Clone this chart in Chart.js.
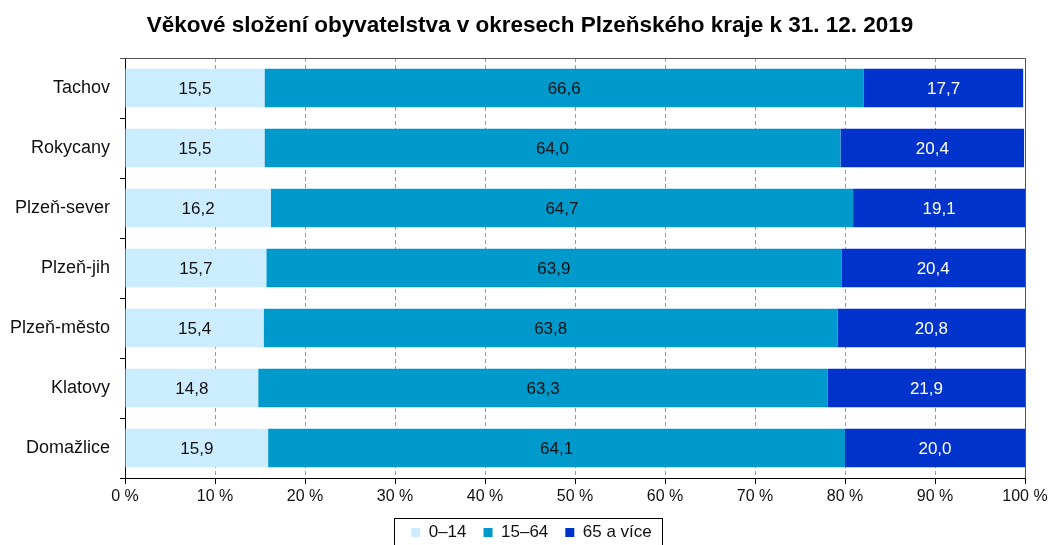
<!DOCTYPE html>
<html><head><meta charset="utf-8">
<script src="https://cdn.jsdelivr.net/npm/chart.js@4"></script>
<style>html,body{margin:0;padding:0;background:#fff}#wrap{width:1053px;height:545px}</style>
</head><body><div id="wrap"><canvas id="c" width="1053" height="545"></canvas></div>
<script>
const categories = ["Tachov","Rokycany","Plzeň-sever","Plzeň-jih","Plzeň-město","Klatovy","Domažlice"];
const age0_14  = [15.5,15.5,16.2,15.7,15.4,14.8,15.9];
const age15_64 = [66.6,64.0,64.7,63.9,63.8,63.3,64.1];
const age65    = [17.7,20.4,19.1,20.4,20.8,21.9,20.0];
const seriesNames = ["0–14","15–64","65 a více"];
const xTicks = [0,10,20,30,40,50,60,70,80,90,100];
const FONT = "'Liberation Sans', Arial, sans-serif";

const labelPlugin = {
  id:'barLabels',
  afterDatasetsDraw(chart){
    const ctx = chart.ctx;
    ctx.save();
    ctx.font = "17px " + FONT;
    ctx.textAlign='center'; ctx.textBaseline='middle';
    chart.data.datasets.forEach((ds,i)=>{
      const meta = chart.getDatasetMeta(i);
      meta.data.forEach((bar,j)=>{
        const v = ds.data[j];
        const cx = (bar.x + bar.base)/2;
        ctx.fillStyle = i===2 ? '#ffffff' : '#111111';
        ctx.fillText(v.toFixed(1).replace('.',','), cx, bar.y+1);
      });
    });
    ctx.restore();
  }
};
const framePlugin = {
  id:'frame',
  afterLayout(chart){
    if (chart.titleBlock){ chart.titleBlock.left = 7; chart.titleBlock.right = 1053; }
    if (chart.legend){ chart.legend.left = 19; chart.legend.right = 1044; }
  },
  afterDraw(chart){
    const a = chart.chartArea, ctx = chart.ctx;
    ctx.save();
    ctx.strokeStyle='#555'; ctx.lineWidth=1;
    ctx.beginPath();
    ctx.moveTo(a.left-5, a.top+0.5); ctx.lineTo(a.right+0.5, a.top+0.5); ctx.lineTo(a.right+0.5, a.bottom);
    ctx.stroke();
    const L = chart.legend;
    if (L && L.legendHitBoxes && L.legendHitBoxes.length) {
      const hb = L.legendHitBoxes;
      const l = Math.min(...hb.map(h=>h.left)) - 17;
      const r = Math.max(...hb.map(h=>h.left+h.width)) + 10;
      ctx.strokeStyle='#000';
      ctx.strokeRect(Math.round(l)+0.5, a.bottom+40.5, Math.round(r-l), 40);
    }
    ctx.restore();
  }
};

new Chart(document.getElementById('c'), {
  type:'bar',
  data:{
    labels: categories,
    datasets:[
      {label:seriesNames[0], data:age0_14, backgroundColor:'#CCECFF'},
      {label:seriesNames[1], data:age15_64, backgroundColor:'#0099CC'},
      {label:seriesNames[2], data:age65, backgroundColor:'#0033CC'}
    ]
  },
  options:{
    indexAxis:'y', responsive:false, animation:false,
    categoryPercentage:0.64, barPercentage:1,
    layout:{padding:{left:0,right:28,top:0,bottom:-6}},
    scales:{
      x:{stacked:true, min:0, max:100,
        afterBuildTicks(s){ s.ticks = xTicks.map(v=>({value:v})); },
        afterFit(s){ s.height = 29; },
        ticks:{font:{family:FONT,size:16}, color:'#111', padding:3, maxRotation:0, callback:v=>v+' %'},
        grid:{color:'#9a9a9a', tickColor:'#000', tickBorderDash:[], tickLength:6, drawTicks:true},
        border:{color:'#000', width:1, dash:[4,3]}
      },
      y:{stacked:true,
        afterFit(s){ s.width = 125; },
        ticks:{font:{family:FONT,size:18}, color:'#111', padding:10},
        grid:{offset:true, drawOnChartArea:false, tickColor:'#000', tickLength:5},
        border:{color:'#000', width:1}
      }
    },
    plugins:{
      title:{display:true, text:'Věkové složení obyvatelstva v okresech Plzeňského kraje k 31. 12. 2019',
        font:{family:FONT,size:22.5,weight:'bold'}, color:'#000', padding:{top:12,bottom:19}},
      legend:{position:'bottom', labels:{font:{family:FONT,size:17}, color:'#111', boxWidth:9, boxHeight:9, padding:17}},
      tooltip:{enabled:false}
    }
  },
  plugins:[labelPlugin, framePlugin]
});
</script></body></html>
